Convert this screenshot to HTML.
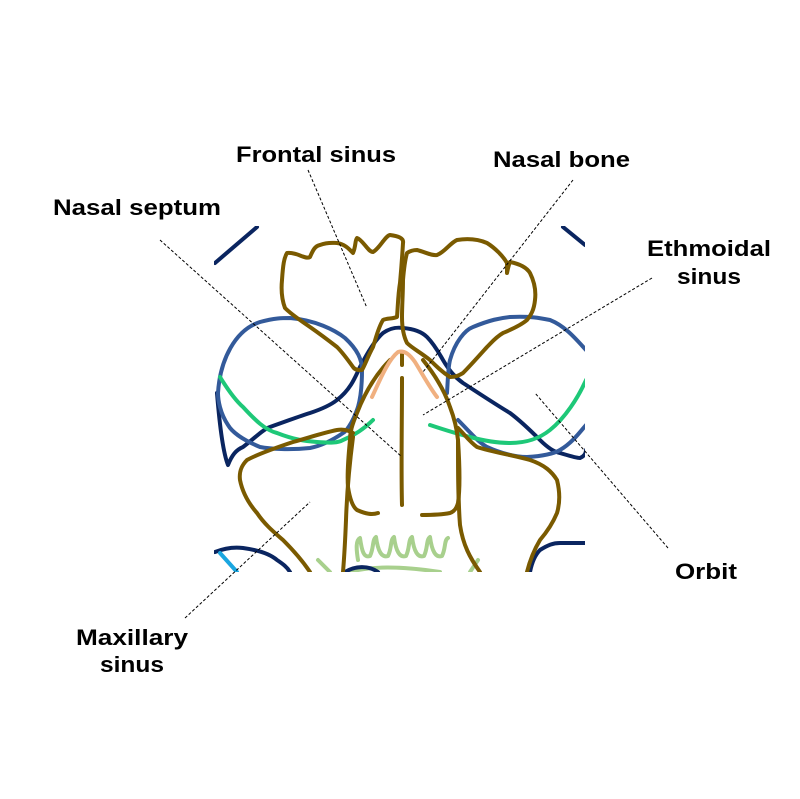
<!DOCTYPE html>
<html><head><meta charset="utf-8"><style>
html,body{margin:0;padding:0;background:#fff;}
svg{display:block;}
text{font-family:"Liberation Sans",sans-serif;font-weight:bold;font-size:22px;fill:#000;}
</style></head><body>
<svg width="800" height="799" viewBox="0 0 800 799" xmlns="http://www.w3.org/2000/svg">
<defs><clipPath id="c"><rect x="214" y="226" width="371" height="346"/></clipPath></defs>
<g clip-path="url(#c)" fill="none" stroke-width="4" stroke-linecap="round" stroke-linejoin="round">
<path stroke="#a8d08d" d="M358,560 C356,548 356,540 360,538 C362,552 364,558 370,556 C374,548 372,540 376,537 C378,552 382,558 388,556 C392,548 390,540 394,537 C396,552 400,558 406,556 C410,548 408,540 412,537 C414,552 418,558 424,556 C428,548 426,540 430,537 C432,552 436,558 442,556 C446,548 444,540 448,538"/>
<path stroke="#a8d08d" d="M330,572 L318,560 M350,572 C370,566 400,566 440,572 M470,572 L478,560"/>
<path stroke="#0a2560" d="M215,263 L257,227 M563,227 L585,245"/>
<path stroke="#0a2560" d="M217,393 C220,430 224,455 228,465 C232,455 236,450 243,447 C255,438 262,430 270,427 C290,420 300,416 310,413 C325,408 332,404 337,400 C350,390 355,378 360,367 C368,352 375,340 383,333 C390,328 396,327 403,328 C415,329 422,332 427,337 C435,345 440,355 443,360 C450,372 456,378 463,383 C480,394 495,404 510,413 C522,422 532,432 540,440 C548,448 554,452 560,453 C570,456 576,458 580,458 C585,456 586,452 586,450"/>
<path stroke="#0a2560" d="M215,552 C225,548 235,547 243,548 C258,550 270,554 277,560 C283,564 287,567 290,572"/>
<path stroke="#0a2560" d="M530,572 C532,562 535,555 540,550 C548,545 553,543 560,543 L586,543"/>
<path stroke="#0a2560" d="M345,572 C355,566 368,565 378,572"/>
<path stroke="#1aa6e0" d="M220,553 L237,572"/>
<path stroke="#335a9a" d="M218,393 C220,360 235,330 260,322 C275,318 282,318 290,318 C315,320 335,330 345,338 C358,350 362,360 362,370 C362,390 360,400 358,407 C352,425 345,432 343,433 C330,442 320,446 310,448 C290,450 270,449 260,447 C243,440 232,432 228,425 C220,413 218,400 218,393 Z"/>
<path stroke="#335a9a" d="M447,393 C448,378 448,368 450,360 C455,342 465,330 473,327 C490,320 500,318 510,317 C530,316 540,318 550,320 C565,326 575,338 586,350"/>
<path stroke="#335a9a" d="M458,420 C470,432 478,442 487,447 C500,453 515,457 527,457 C545,456 555,453 560,450 C572,443 580,432 586,425"/>
<path stroke="#1ec878" d="M220,377 C228,390 235,400 243,407 C255,420 265,430 277,433 C295,440 305,441 317,442 C330,443 338,443 343,440 C355,435 365,428 373,420"/>
<path stroke="#1ec878" d="M430,425 C445,430 458,434 470,437 C485,441 498,443 510,443 C528,443 540,438 550,430 C565,418 578,398 586,380"/>
<path stroke="#7a5a00" d="M287,253 C298,252 305,260 310,257 C313,250 315,246 320,245 C328,242 333,243 337,243 C345,244 350,250 353,253 C356,246 355,240 357,238 C363,240 368,252 373,252 C380,248 385,236 390,235 C398,236 404,238 403,243 C402,260 401,272 400,283 C398,295 398,305 397,317 C392,319 387,318 383,320 C378,328 376,338 373,347 C368,356 365,365 362,370 C358,370 355,370 353,367 C348,360 342,352 337,347 C328,340 320,334 310,327 C300,320 292,315 285,308 C282,300 281,290 282,280 C283,265 284,258 287,253 Z"/>
<path stroke="#7a5a00" d="M407,253 C410,251 414,250 417,250 C425,252 432,256 437,255 C445,252 450,243 457,240 C470,238 480,240 487,243 C495,248 503,256 507,263 L507,273 C508,268 509,264 510,262 C520,264 527,268 530,273 C535,283 536,292 535,300 C534,310 531,315 527,320 C520,326 510,330 503,333 C496,337 492,342 487,347 C478,357 470,366 463,373 C458,376 455,377 450,377 C442,372 436,366 430,360 C420,352 412,348 407,343 C403,335 402,325 402,317 C402,305 403,293 403,280 C404,268 405,260 407,253 Z"/>
<path stroke="#7a5a00" d="M390,360 C375,375 364,395 357,413 C352,425 350,432 350,440 C348,460 347,475 348,487 C350,500 353,507 357,510 C366,514 372,515 378,513"/>
<path stroke="#7a5a00" d="M423,360 C435,375 445,392 450,407 C455,420 457,430 458,440 C460,470 460,490 458,503 C456,510 453,512 450,513 C440,515 430,515 422,515"/>
<path stroke="#7a5a00" d="M402,378 C402,420 401,470 402,505 M402,353 L402,365"/>
<path stroke="#7a5a00" d="M353,433 C348,430 342,429 337,430 C322,433 308,438 293,442 C275,448 258,454 247,460 C241,466 239,472 240,480 C243,495 250,505 257,513 C265,525 275,533 283,540 C293,550 302,560 310,572"/>
<path stroke="#7a5a00" d="M353,437 C350,460 347,490 346,520 C345,545 344,560 343,572"/>
<path stroke="#7a5a00" d="M458,428 C465,435 470,442 477,447 C492,452 512,455 530,460 C545,465 552,472 557,480 C560,492 560,503 557,513 C552,525 546,533 540,540 C534,550 530,560 527,572"/>
<path stroke="#7a5a00" d="M458,440 C458,470 458,500 460,525 C463,545 470,558 480,572"/>
<path stroke="#f0b080" d="M372,397 C380,380 388,360 398,352 C405,350 410,355 415,362 C423,375 430,388 437,397"/>
</g>
<g stroke="#000" stroke-width="1" stroke-dasharray="3,2" fill="none">
<line x1="308" y1="170" x2="367" y2="308"/>
<line x1="573" y1="180" x2="423" y2="372"/>
<line x1="160" y1="240" x2="402" y2="457"/>
<line x1="652" y1="278" x2="423" y2="415"/>
<line x1="668" y1="548" x2="535" y2="393"/>
<line x1="185" y1="618" x2="310" y2="502"/>
</g>
<g text-anchor="start">
<text x="236" y="162" textLength="160" lengthAdjust="spacingAndGlyphs">Frontal sinus</text>
<text x="493" y="167" textLength="137" lengthAdjust="spacingAndGlyphs">Nasal bone</text>
<text x="53" y="215" textLength="168" lengthAdjust="spacingAndGlyphs">Nasal septum</text>
<text x="647" y="256" textLength="124" lengthAdjust="spacingAndGlyphs">Ethmoidal</text>
<text x="677" y="284" textLength="64" lengthAdjust="spacingAndGlyphs">sinus</text>
<text x="675" y="579" textLength="62" lengthAdjust="spacingAndGlyphs">Orbit</text>
<text x="76" y="645" textLength="112" lengthAdjust="spacingAndGlyphs">Maxillary</text>
<text x="100" y="672" textLength="64" lengthAdjust="spacingAndGlyphs">sinus</text>
</g>
</svg>
</body></html>
